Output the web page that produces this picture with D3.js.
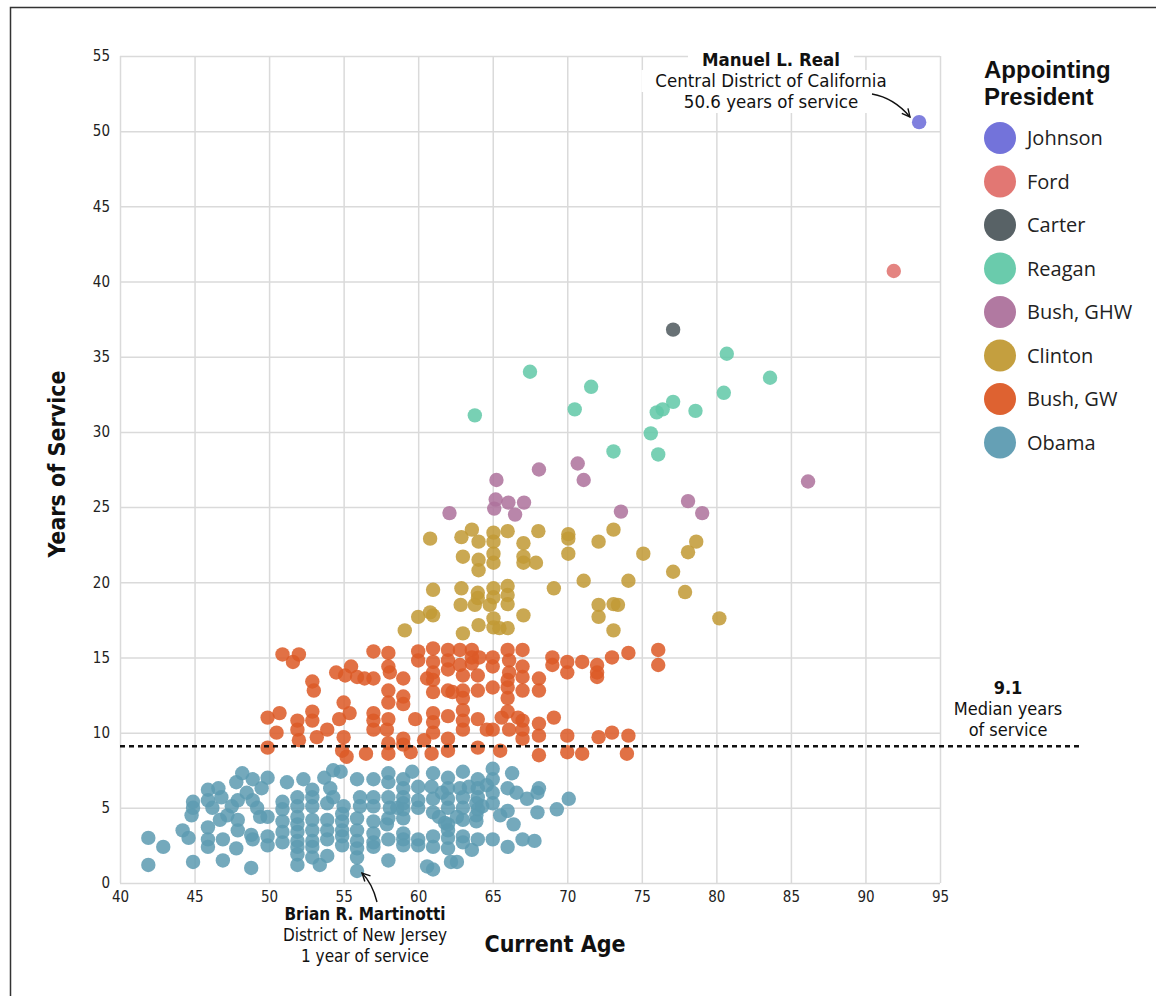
<html>
<head>
<style type="text/css">
  body { margin: 0; background: #fff; }
  .grid line { stroke: #dadada; stroke-width: 1.5px; }
  .grid path { display: none; }
  .grid text { font-family: "Liberation Sans Narrow", "DejaVu Sans Condensed", sans-serif; font-size: 15px; fill: #222; }
  .note { font-family: "Liberation Sans Narrow", "DejaVu Sans Condensed", sans-serif; font-size: 18.5px; fill: #111; }
  .note .b { font-weight: bold; }
  .axis-title { font-family: "Liberation Sans Narrow", "DejaVu Sans Condensed", sans-serif; font-size: 23px; font-weight: bold; fill: #111; }
  .legend text { font-family: "Open Sans", sans-serif; fill: #222; }
  .legend .title { font-family: "Liberation Sans", Arial, sans-serif; font-size: 24px; font-weight: bold; fill: #111; }
</style>
</head>
<body>
<svg id="viewport" width="1156" height="996"></svg>
<script src="https://cdnjs.cloudflare.com/ajax/libs/d3/7.8.5/d3.min.js"></script>
<script>
  // DATA  [current age, years of service]
  var presidents = ["Johnson", "Ford", "Carter", "Reagan", "Bush, GHW", "Clinton", "Bush, GW", "Obama"];
  var colours = ["#6b6bd8", "#e0706c", "#4f5a5e", "#62c8a8", "#ad729c", "#c19a35", "#dc5a26", "#5d9bb1"];

  var johnson = [[93.6, 50.6]];
  var ford = [[91.9, 40.7]];
  var carter = [[77.1, 36.8]];
  var reagan = [[63.8, 31.1], [67.5, 34.0], [71.6, 33.0], [70.5, 31.5], [73.1, 28.7], [75.6, 29.9], [76.0, 31.3],
    [76.4, 31.5], [77.1, 32.0], [76.1, 28.5], [78.6, 31.4], [80.5, 32.6], [80.7, 35.2], [83.6, 33.6]];
  var bushGHW = [[62.1, 24.6], [65.25, 26.8], [68.1, 27.5], [70.7, 27.9], [71.1, 26.8], [65.2, 25.5], [65.1, 24.9],
    [66.05, 25.3], [67.1, 25.3], [66.5, 24.5], [73.6, 24.7], [78.1, 25.4], [79.05, 24.6], [86.15, 26.7]];
  var clinton = [[60.8, 22.9], [63.6, 23.5], [62.9, 23.0], [64.05, 22.7], [65.05, 23.3], [65.05, 22.7], [66.0, 23.4],
    [67.06, 22.6], [68.06, 23.4], [70.07, 23.2], [70.07, 22.9], [70.07, 21.9], [72.1, 22.7], [73.1, 23.5], [75.1, 21.9],
    [63.0, 21.7], [64.05, 21.5], [64.05, 20.8], [65.05, 21.9], [65.05, 21.3], [67.06, 21.7], [67.06, 21.3], [67.9, 21.3],
    [61.0, 19.5], [62.9, 19.6], [64.0, 19.3], [64.0, 18.95], [65.05, 19.6], [66.0, 19.75], [66.0, 19.15], [65.05, 19.0],
    [66.0, 18.55], [62.85, 18.5], [63.8, 18.5], [64.8, 18.5], [69.1, 19.6], [71.1, 20.1], [74.1, 20.1], [72.1, 18.5],
    [73.1, 18.55], [73.4, 18.5], [72.1, 17.7], [73.1, 16.8], [60.0, 17.7], [60.8, 18.0], [61.0, 17.8], [59.1, 16.8],
    [63.0, 16.6], [64.05, 17.15], [65.05, 17.6], [65.05, 17.0], [65.45, 16.95], [66.0, 16.95], [67.06, 17.8],
    [77.1, 20.7], [78.1, 22.0], [78.65, 22.7], [77.9, 19.35], [80.2, 17.6]];
  var bushGW = [[49.9, 11.0], [49.9, 9.0], [50.5, 10.0], [50.7, 11.3], [50.9, 15.2], [51.6, 14.7], [52.0, 15.2],
    [51.9, 10.8], [51.9, 10.2], [52.0, 9.5], [52.9, 13.4], [53.0, 12.8], [52.9, 11.4], [52.9, 10.8], [53.2, 9.7],
    [53.9, 10.2], [54.5, 14.0], [55.1, 13.8], [55.5, 14.4], [55.9, 13.7], [56.4, 13.6], [57.0, 13.6], [57.0, 15.4],
    [55.0, 12.0], [55.4, 11.3], [54.7, 10.9], [55.0, 9.7], [54.9, 8.8], [55.2, 8.4], [57.0, 11.3], [57.0, 10.8],
    [57.0, 10.2], [56.5, 8.6], [58.0, 15.3], [58.0, 14.4], [58.1, 14.0], [58.0, 12.8], [58.0, 12.0], [58.0, 10.9],
    [57.9, 10.2], [58.0, 9.3], [58.0, 8.6], [59.0, 13.6], [59.0, 12.4], [59.0, 11.9], [59.0, 9.6], [59.0, 9.2],
    [59.5, 8.7], [59.8, 10.9], [60.0, 15.4], [60.0, 14.8], [60.4, 9.5], [60.6, 13.6], [60.9, 8.6], [61.0, 15.6],
    [61.0, 14.7], [61.0, 14.0], [61.0, 13.5], [61.0, 12.7], [61.0, 11.3], [61.0, 10.7], [61.0, 10.0], [62.0, 15.5],
    [62.0, 14.8], [62.0, 14.2], [62.0, 12.8], [62.3, 12.7], [62.0, 11.1], [62.0, 9.6], [62.0, 8.8], [62.8, 15.5],
    [62.8, 14.5], [63.0, 13.8], [63.0, 12.8], [63.0, 12.3], [63.0, 11.5], [63.0, 10.8], [63.0, 10.2], [63.6, 15.5],
    [63.6, 15.0], [63.6, 14.6], [64.1, 15.0], [64.0, 13.8], [64.0, 12.8], [64.0, 10.9], [64.0, 9.0], [64.6, 10.2],
    [65.0, 15.0], [65.0, 14.4], [65.0, 13.0], [65.0, 10.2], [65.5, 8.8], [65.6, 11.0], [66.0, 15.5], [66.1, 14.8],
    [66.1, 14.0], [66.0, 13.5], [66.0, 13.0], [66.0, 12.3], [66.0, 11.4], [66.1, 10.2], [66.7, 11.0], [67.0, 15.5],
    [67.0, 14.4], [67.0, 13.7], [67.0, 12.8], [67.0, 10.8], [67.0, 10.2], [67.0, 9.6], [68.1, 13.6], [68.1, 12.8],
    [68.1, 10.6], [68.1, 9.8], [68.1, 8.5], [69.0, 15.0], [69.0, 14.5], [69.1, 11.0], [70.0, 14.7], [70.0, 14.0],
    [70.0, 9.8], [70.0, 8.7], [71.0, 14.7], [71.0, 8.6], [72.0, 14.5], [72.0, 14.0], [72.0, 13.7], [72.1, 9.7],
    [73.0, 15.0], [73.0, 10.0], [74.1, 15.3], [74.1, 9.8], [74.0, 8.6], [76.1, 15.5], [76.1, 14.5]];
  var obama = [[41.9, 3.0], [41.9, 1.2], [42.9, 2.4], [44.2, 3.5], [44.6, 3.0], [44.9, 5.4], [44.9, 5.0], [44.8, 4.5],
    [44.9, 1.4], [45.9, 6.2], [45.9, 5.5], [46.2, 5.0], [45.9, 3.7], [45.9, 2.9], [45.9, 2.4], [46.6, 6.3], [46.8, 5.7],
    [46.9, 2.9], [46.9, 1.5], [46.7, 4.2], [47.2, 4.5], [47.5, 5.1], [47.9, 5.5], [47.9, 4.2], [47.9, 3.5], [47.8, 2.3],
    [47.8, 6.7], [48.2, 7.3], [48.5, 6.0], [48.9, 6.9], [48.9, 5.5], [49.2, 5.0], [48.8, 3.2], [48.9, 2.9], [48.8, 1.0],
    [49.5, 6.3], [49.4, 4.4], [49.9, 7.0], [49.9, 4.4], [49.9, 3.1], [49.9, 2.5], [50.9, 5.4], [50.9, 4.9], [50.9, 4.1],
    [50.9, 3.4], [50.9, 2.7], [51.2, 6.7], [51.9, 5.7], [51.9, 5.1], [51.9, 4.4], [51.9, 3.9], [51.9, 3.4], [51.9, 2.8],
    [51.9, 2.4], [51.9, 1.9], [51.9, 1.2], [52.3, 6.9], [52.9, 6.2], [52.9, 5.7], [52.9, 5.1], [52.9, 4.2], [52.9, 3.5],
    [52.9, 2.8], [52.9, 2.4], [52.9, 1.7], [53.4, 1.2], [53.7, 7.0], [54.1, 6.3], [53.9, 5.3], [54.3, 5.7], [53.9, 4.2],
    [53.9, 3.5], [53.9, 2.9], [53.9, 1.8], [54.3, 7.5], [54.8, 7.4], [55.0, 5.1], [54.9, 4.6], [54.9, 4.1], [54.9, 3.5],
    [54.9, 3.1], [54.9, 2.5], [55.9, 6.9], [56.1, 5.7], [56.1, 5.1], [55.9, 4.3], [55.9, 3.5], [55.9, 2.8], [55.9, 2.3],
    [55.9, 1.7], [55.9, 0.8], [57.0, 6.9], [57.0, 5.7], [57.0, 5.1], [57.0, 4.1], [57.0, 3.3], [57.0, 2.7], [57.0, 2.4],
    [58.0, 7.3], [58.0, 6.7], [58.0, 5.7], [58.1, 5.0], [58.6, 5.0], [58.0, 4.3], [57.9, 3.9], [58.0, 2.9], [58.0, 1.5],
    [59.0, 6.9], [59.0, 6.3], [59.0, 5.7], [59.0, 5.3], [59.0, 4.9], [59.0, 4.3], [59.0, 3.3], [59.0, 2.9], [59.0, 2.5],
    [59.6, 7.4], [60.0, 6.4], [60.0, 5.5], [60.0, 5.0], [60.0, 2.9], [60.0, 2.5], [60.6, 1.1], [60.9, 6.4], [61.0, 7.3],
    [61.0, 5.6], [61.0, 4.7], [61.4, 4.4], [61.8, 4.0], [61.0, 3.1], [61.0, 2.4], [61.0, 0.9], [61.6, 6.0], [62.0, 7.0],
    [62.0, 6.3], [62.0, 5.6], [62.0, 5.0], [62.0, 3.9], [62.0, 3.5], [62.0, 3.0], [62.0, 2.3], [62.2, 1.4], [62.6, 4.4],
    [62.6, 1.4], [63.0, 7.4], [62.8, 6.3], [63.0, 5.7], [63.0, 5.0], [63.0, 4.2], [63.0, 3.1], [63.0, 2.7], [63.4, 6.4],
    [63.6, 2.2], [63.9, 5.3], [64.0, 6.9], [64.0, 6.3], [64.0, 5.7], [64.0, 4.9], [63.9, 4.5], [63.9, 4.1], [64.0, 2.9],
    [64.3, 5.1], [64.6, 6.5], [65.0, 7.6], [65.0, 6.9], [65.0, 6.0], [65.0, 5.3], [65.0, 2.9], [65.5, 4.5], [66.0, 4.8],
    [66.0, 6.3], [66.3, 7.3], [66.4, 3.9], [66.0, 2.4], [66.6, 6.0], [67.0, 2.9], [67.3, 5.6], [67.8, 2.8], [68.0, 6.0],
    [68.1, 6.3], [68.0, 4.7], [69.3, 4.9], [70.1, 5.6]];

  var seriesData = [johnson, ford, carter, reagan, bushGHW, clinton, bushGW, obama];

  var xTicks = [40, 45, 50, 55, 60, 65, 70, 75, 80, 85, 90, 95];
  var yTicks = [0, 5, 10, 15, 20, 25, 30, 35, 40, 45, 50, 55];
  var medianYears = 9.1;
  var realLines = ["Manuel L. Real", "Central District of California", "50.6 years of service"];
  var brianLines = ["Brian R. Martinotti", "District of New Jersey", "1 year of service"];
  var medianLines = [medianYears.toFixed(1), "Median years", "of service"];
  var legendTitle = ["Appointing", "President"];

  var svg = d3.select("svg");

  var x = d3.scaleLinear().domain([40, 95]).range([120, 940]);
  var y = d3.scaleLinear().domain([0, 55]).range([883, 56]);

  // frame
  svg.append("rect")
    .attr("x", 10.5).attr("y", 7.5)
    .attr("width", 1170).attr("height", 1010)
    .attr("fill", "none").attr("stroke", "#333").attr("stroke-width", 1.5);

  // grid + axes
  svg.append("g")
    .attr("class", "grid")
    .attr("transform", "translate(0,883)")
    .call(d3.axisBottom(x).tickValues(xTicks).tickSize(-(883 - 56)).tickPadding(8));

  svg.append("g")
    .attr("class", "grid")
    .attr("transform", "translate(120,0)")
    .call(d3.axisLeft(y).tickValues(yTicks).tickSize(-(940 - 120)).tickPadding(10));

  // points, newest appointments at the bottom
  var flat = [];
  for (var i = seriesData.length - 1; i >= 0; i--) {
    seriesData[i].forEach(function(p) { flat.push({ age: p[0], yrs: p[1], k: i }); });
  }

  svg.append("g")
    .selectAll("circle")
    .data(flat)
    .enter()
    .append("circle")
    .attr("cx", function(d) { return x(d.age); })
    .attr("cy", function(d) { return y(d.yrs); })
    .attr("r", 7.2)
    .attr("fill", function(d) { return colours[d.k]; })
    .attr("fill-opacity", 0.86);

  // median line
  svg.append("line")
    .attr("x1", x(40)).attr("x2", 1082)
    .attr("y1", y(medianYears)).attr("y2", y(medianYears))
    .attr("stroke", "#111").attr("stroke-width", 2.5)
    .attr("stroke-dasharray", "5,4");

  // multi-line note as one text with tspans
  function note(lines, cx, y0, lh, size) {
    var t = svg.append("text")
      .attr("class", "note")
      .attr("text-anchor", "middle")
      .style("font-size", size + "px");
    t.selectAll("tspan")
      .data(lines)
      .enter()
      .append("tspan")
      .attr("x", cx)
      .attr("y", function(d, i) { return y0 + i * lh; })
      .attr("class", function(d, i) { return i == 0 ? "b" : null; })
      .text(function(d) { return d; });
    return t;
  }

  note(medianLines, 1008, y(medianYears) - 52, 21, 18);

  // arrow marker
  svg.append("defs").append("marker")
    .attr("id", "arrow")
    .attr("viewBox", "0 0 10 10")
    .attr("refX", 9).attr("refY", 5)
    .attr("markerWidth", 10).attr("markerHeight", 10)
    .attr("markerUnits", "userSpaceOnUse")
    .attr("orient", "auto")
    .append("path")
    .attr("d", "M1,1 L9,5 L1,9")
    .attr("fill", "none").attr("stroke", "#111").attr("stroke-width", 1.4);

  // Manuel L. Real note, white boxes behind each line
  var bgs = svg.append("g");
  var real = note(realLines, 771, 66, 21, 18.5);
  real.selectAll("tspan").each(function(d, i) {
    var w = this.getComputedTextLength();
    bgs.append("rect")
      .attr("x", 771 - w / 2 - 14).attr("y", 66 + i * 21 - 17)
      .attr("width", w + 28).attr("height", 22)
      .attr("fill", "#fff");
  });

  svg.append("path")
    .attr("d", "M872,94 C889,97 900,105 910,117")
    .attr("fill", "none").attr("stroke", "#111").attr("stroke-width", 1.4)
    .attr("marker-end", "url(#arrow)");

  // Brian R. Martinotti note
  note(brianLines, 365, 920, 21, 17);

  svg.append("path")
    .attr("d", "M377,902 C374,890 369,880 362,873")
    .attr("fill", "none").attr("stroke", "#111").attr("stroke-width", 1.4)
    .attr("marker-end", "url(#arrow)");

  // axis titles
  svg.append("text")
    .attr("class", "axis-title")
    .attr("x", 555).attr("y", 952)
    .attr("text-anchor", "middle")
    .text("Current Age");

  svg.append("text")
    .attr("class", "axis-title")
    .attr("transform", "translate(65,464) rotate(-90)")
    .attr("text-anchor", "middle")
    .text("Years of Service");

  // legend
  var legend = svg.append("g").attr("class", "legend");
  var title = legend.append("text").attr("class", "title");
  title.selectAll("tspan")
    .data(legendTitle)
    .enter()
    .append("tspan")
    .attr("x", 984)
    .attr("y", function(d, i) { return 78 + i * 27; })
    .text(function(d) { return d; });

  var item = legend.selectAll("g.item")
    .data(presidents)
    .enter()
    .append("g")
    .attr("class", "item")
    .attr("transform", function(d, i) { return "translate(1000," + (138 + i * 43.5) + ")"; });

  item.append("circle")
    .attr("r", 16)
    .attr("fill", function(d, i) { return colours[i]; })
    .attr("fill-opacity", 0.95);

  item.append("text")
    .attr("x", 27)
    .attr("dy", "0.35em")
    .style("font-size", "20px")
    .text(function(d) { return d; });
</script>
</body>
</html>
